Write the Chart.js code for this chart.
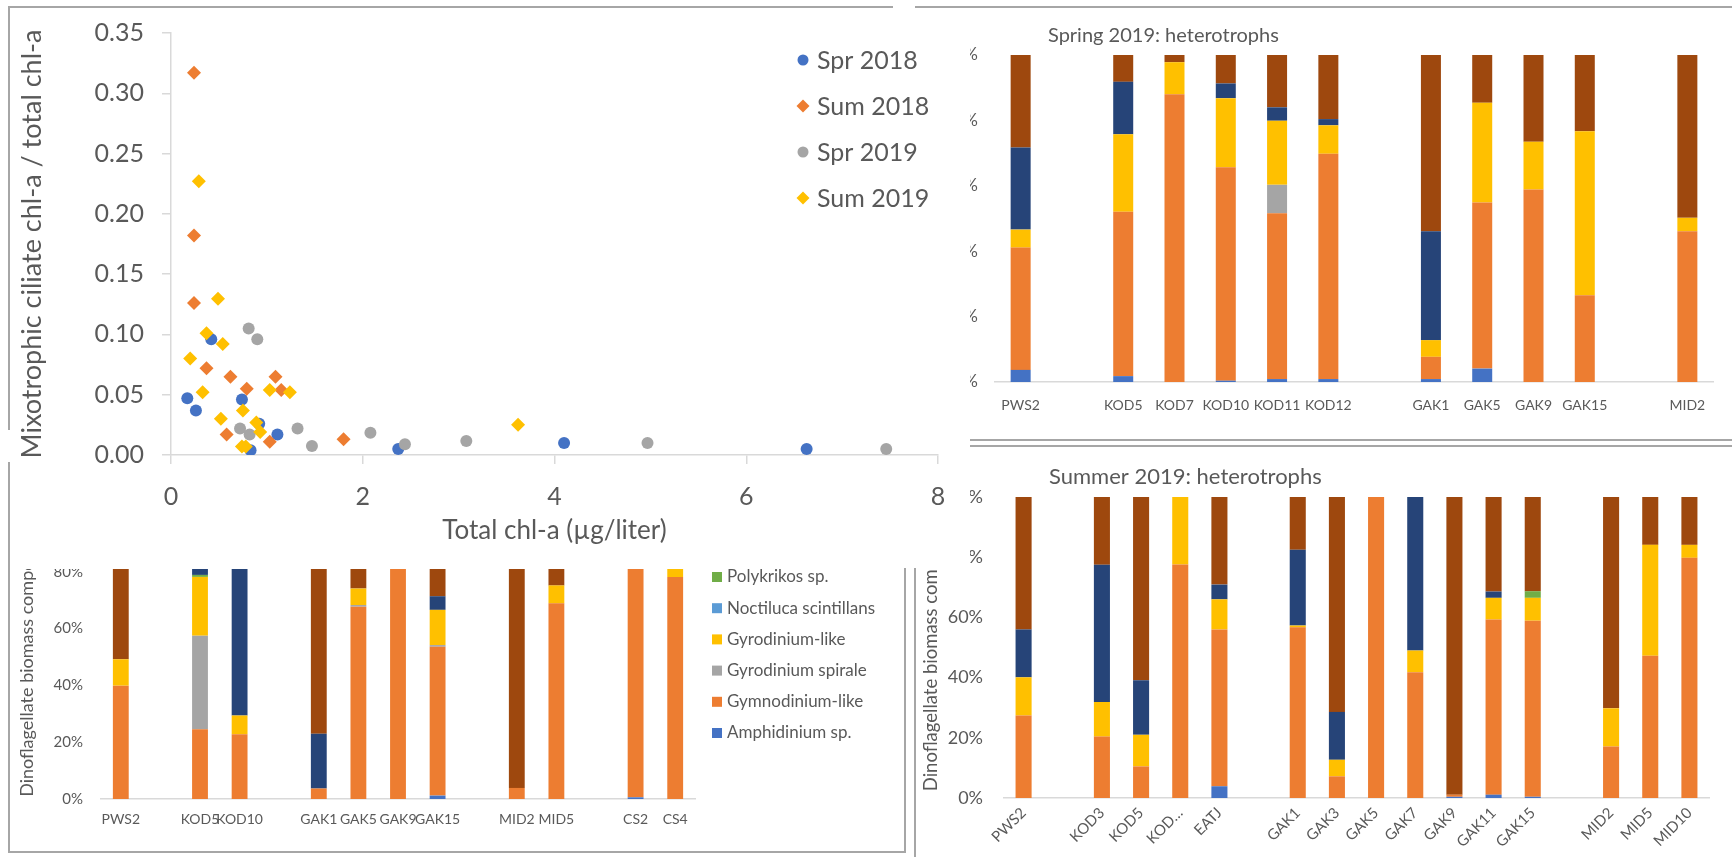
<!DOCTYPE html>
<html>
<head>
<meta charset="utf-8">
<script src="https://cdn.jsdelivr.net/npm/chart.js@4.4.1/dist/chart.umd.min.js"></script>
<style>
html, body { margin: 0; padding: 0; background: #fff; width: 1732px; height: 857px; overflow: hidden; position: relative; }
canvas { position: absolute; display: block; }
.cover { position: absolute; left: 0; top: 0; width: 970px; height: 569px; background: #fff; z-index: 4; }
.ln { position: absolute; background: #A6A6A6; z-index: 5; }
</style>
</head>
<body>
<canvas id="tr" width="772" height="426" style="left:960px;top:12px;z-index:1"></canvas>
<canvas id="br" width="814" height="408" style="left:918px;top:449px;z-index:2"></canvas>
<canvas id="bl" width="892" height="390" style="left:11px;top:460px;z-index:3"></canvas>
<div class="cover"><canvas id="sc" width="970" height="568" style="left:0;top:0"></canvas></div>

<div class="ln" style="left:9px;top:6px;width:884px;height:2px"></div>
<div class="ln" style="left:915px;top:6px;width:817px;height:2px"></div>
<div class="ln" style="left:8px;top:6px;width:2px;height:424px"></div>
<div class="ln" style="left:8px;top:462px;width:2px;height:390px"></div>
<div class="ln" style="left:8px;top:851px;width:898px;height:2px"></div>
<div class="ln" style="left:904px;top:568px;width:2px;height:285px"></div>
<div class="ln" style="left:914px;top:568px;width:2px;height:289px"></div>
<div class="ln" style="left:970px;top:439px;width:762px;height:2px"></div>
<div class="ln" style="left:970px;top:445px;width:762px;height:2px"></div>

<script>
// ---------- Scatter data: total chl-a (x) vs mixotrophic ciliate fraction (y) ----------
const spr2018X = [0.17, 0.26, 0.42, 0.74, 0.83, 0.92, 1.11, 2.37, 4.10, 6.63];
const spr2018Y = [0.047, 0.037, 0.096, 0.046, 0.004, 0.026, 0.017, 0.005, 0.010, 0.005];
const sum2018X = [0.24, 0.24, 0.24, 0.37, 0.62, 0.79, 1.09, 1.15, 0.58, 1.03, 1.80];
const sum2018Y = [0.317, 0.182, 0.126, 0.072, 0.065, 0.055, 0.065, 0.054, 0.017, 0.011, 0.013];
const spr2019X = [0.81, 0.90, 0.72, 0.82, 1.32, 1.47, 2.08, 2.44, 3.08, 4.97, 7.46];
const spr2019Y = [0.105, 0.096, 0.022, 0.017, 0.022, 0.0075, 0.0185, 0.009, 0.0116, 0.010, 0.005];
const sum2019X = [0.29, 0.49, 0.37, 0.54, 0.20, 0.33, 1.03, 1.24, 0.75, 0.52, 0.89, 0.93, 0.74, 0.78, 3.62];
const sum2019Y = [0.227, 0.1295, 0.101, 0.092, 0.080, 0.052, 0.054, 0.052, 0.037, 0.030, 0.027, 0.019, 0.007, 0.007, 0.025];

// ---------- Stacked bar series (bottom to top) ----------
const seriesNames = ['Amphidinium sp.', 'Gymnodinium-like', 'Gyrodinium spirale', 'Gyrodinium-like',
                     'Noctiluca scintillans', 'Polykrikos sp.', 'Series 7', 'Series 8'];
const seriesColors = ['#4472C4', '#ED7D31', '#A5A5A5', '#FFC000', '#5B9BD5', '#70AD47', '#264478', '#9E480E'];

// Bottom-left panel
const blCategories = ['PWS2', '', 'KOD5', 'KOD10', '', 'GAK1', 'GAK5', 'GAK9', 'GAK15', '', 'MID2', 'MID5', '', 'CS2', 'CS4'];
const blValues = [
  [0, null, 0, 0, null, 0, 0, 0, 1.2, null, 0, 0, null, 0.6, 0],
  [39.9, null, 24.6, 22.8, null, 3.7, 67.7, 100, 52.4, null, 3.9, 68.9, null, 99.4, 78.2],
  [0, null, 32.9, 0, null, 0, 0.6, 0, 0.6, null, 0, 0, null, 0, 0],
  [9.3, null, 20.7, 6.6, null, 0, 5.8, 0, 12.4, null, 0, 6.3, null, 0, 21.8],
  [0, null, 0, 0, null, 0, 0, 0, 0, null, 0, 0, null, 0, 0],
  [0, null, 0.7, 0, null, 0, 0, 0, 0, null, 0, 0, null, 0, 0],
  [0, null, 5.0, 70.6, null, 19.3, 0, 0, 4.8, null, 0, 0, null, 0, 0],
  [50.8, null, 16.1, 0, null, 77.0, 25.9, 0, 28.6, null, 96.1, 24.8, null, 0, 0]
];

// Top-right panel: Spring 2019
const trCategories = ['PWS2', '', 'KOD5', 'KOD7', 'KOD10', 'KOD11', 'KOD12', '', 'GAK1', 'GAK5', 'GAK9', 'GAK15', '', 'MID2'];
const trValues = [
  [3.7, null, 1.8, 0, 0.4, 0.9, 0.9, null, 0.9, 4.1, 0, 0, null, 0],
  [37.4, null, 50.3, 88.0, 65.3, 50.7, 68.9, null, 6.8, 50.8, 58.9, 26.5, null, 46.1],
  [0, null, 0, 0, 0, 8.7, 0, null, 0, 0, 0, 0, null, 0],
  [5.5, null, 23.7, 9.8, 21.1, 19.6, 8.7, null, 5.1, 30.5, 14.6, 50.2, null, 4.1],
  [0, null, 0, 0, 0, 0, 0, null, 0, 0, 0, 0, null, 0],
  [0, null, 0, 0, 0, 0, 0, null, 0, 0, 0, 0, null, 0],
  [25.1, null, 16.0, 0, 4.5, 4.1, 1.9, null, 33.3, 0, 0, 0, null, 0],
  [28.3, null, 8.2, 2.2, 8.7, 16.0, 19.6, null, 53.9, 14.6, 26.5, 23.3, null, 49.8]
];

// Bottom-right panel: Summer 2019
const brCategories = ['PWS2', '', 'KOD3', 'KOD5', 'KOD…', 'EATJ', '', 'GAK1', 'GAK3', 'GAK5', 'GAK7', 'GAK9', 'GAK11', 'GAK15', '', 'MID2', 'MID5', 'MID10'];
const brValues = [
  [0, null, 0, 0, 0, 3.9, null, 0, 0, 0, 0, 0.4, 1.1, 0.4, null, 0, 0, 0],
  [27.4, null, 20.4, 10.5, 77.6, 52.1, null, 56.7, 7.2, 100, 41.8, 0.7, 58.2, 58.5, null, 17.1, 47.3, 79.8],
  [0, null, 0, 0, 0, 0, null, 0, 0, 0, 0, 0, 0, 0, null, 0, 0, 0],
  [12.7, null, 11.5, 10.5, 22.4, 10.0, null, 0.6, 5.5, 0, 7.2, 0, 7.2, 7.6, null, 12.7, 36.8, 4.3],
  [0, null, 0, 0, 0, 0, null, 0, 0, 0, 0, 0, 0, 0, null, 0, 0, 0],
  [0, null, 0, 0, 0, 0, null, 0, 0, 0, 0, 0, 0, 2.2, null, 0, 0, 0],
  [15.9, null, 45.6, 18.1, 0, 4.9, null, 25.2, 15.9, 0, 51.0, 0, 2.1, 0, null, 0, 0, 0],
  [44.0, null, 22.5, 60.9, 0, 29.1, null, 17.5, 71.4, 0, 0, 98.9, 31.4, 31.3, null, 70.2, 15.9, 15.9]
];

const percentTicks = [0, 20, 40, 60, 80, 100];

// ---------- Chart setup ----------
const FONT = "Lato, 'Open Sans', sans-serif";
Chart.defaults.font.family = FONT;
Chart.defaults.color = '#595959';
Chart.defaults.animation = false;
Chart.defaults.plugins.tooltip.enabled = false;
Chart.defaults.plugins.legend.display = false;

// Panel titles and legends drawn relative to the chart area
const decor = {
  id: 'decor',
  afterDraw(chart, _args, o) {
    const ctx = chart.ctx, a = chart.chartArea;
    ctx.save();
    ctx.textBaseline = 'middle';
    ctx.textAlign = 'left';
    if (o.title) {
      ctx.fillStyle = '#595959';
      ctx.font = o.title.size + 'px ' + FONT;
      ctx.fillText(o.title.text, a.left + o.title.dx, a.top + o.title.dy);
    }
    if (o.markers) {
      const m = o.markers;
      chart.data.datasets.forEach((ds, i) => {
        const x = a.left + m.dx, y = a.top + m.dy + i * m.gap;
        ctx.fillStyle = ds.backgroundColor;
        ctx.beginPath();
        if (ds.pointStyle === 'circle') {
          ctx.arc(x, y, m.r, 0, Math.PI * 2);
        } else {
          const r = m.r + 1;
          ctx.moveTo(x - r, y); ctx.lineTo(x, y - r); ctx.lineTo(x + r, y); ctx.lineTo(x, y + r); ctx.closePath();
        }
        ctx.fill();
        ctx.fillStyle = '#595959';
        ctx.font = m.size + 'px ' + FONT;
        ctx.fillText(ds.label, x + m.textDx, y + 1);
      });
    }
    if (o.boxes) {
      const b = o.boxes;
      b.order.forEach((di, k) => {
        const ds = chart.data.datasets[di];
        const x = a.right + b.dx, y = a.top + b.dy + k * b.gap;
        ctx.fillStyle = ds.backgroundColor;
        ctx.fillRect(x, y - b.box / 2, b.box, b.box);
        ctx.fillStyle = '#595959';
        ctx.font = b.size + 'px ' + FONT;
        ctx.fillText(ds.label, x + b.textDx, y);
      });
    }
    ctx.restore();
  }
};

const pts = (xs, ys) => xs.map((x, i) => ({ x: x, y: ys[i] }));
const axisGrey = '#D9D9D9';

new Chart(document.getElementById('sc'), {
  type: 'scatter',
  data: {
    datasets: [
      { label: 'Spr 2018', data: pts(spr2018X, spr2018Y), backgroundColor: '#4472C4', borderColor: '#4472C4', pointStyle: 'circle', pointRadius: 6, pointBorderWidth: 0, order: 4 },
      { label: 'Sum 2018', data: pts(sum2018X, sum2018Y), backgroundColor: '#ED7D31', borderColor: '#ED7D31', pointStyle: 'rectRot', pointRadius: 7, pointBorderWidth: 0, order: 3 },
      { label: 'Spr 2019', data: pts(spr2019X, spr2019Y), backgroundColor: '#A5A5A5', borderColor: '#A5A5A5', pointStyle: 'circle', pointRadius: 6, pointBorderWidth: 0, order: 2 },
      { label: 'Sum 2019', data: pts(sum2019X, sum2019Y), backgroundColor: '#FFC000', borderColor: '#FFC000', pointStyle: 'rectRot', pointRadius: 7, pointBorderWidth: 0, order: 1 }
    ]
  },
  options: {
    responsive: false,
    layout: { padding: { left: 0, top: 33, right: 32, bottom: 0 } },
    scales: {
      x: {
        type: 'linear', min: 0, max: 8,
        ticks: { stepSize: 2, font: { size: 25 }, padding: 18 },
        grid: { drawOnChartArea: false, drawTicks: true, tickLength: 9, color: axisGrey, lineWidth: 1.5 },
        border: { color: axisGrey, width: 1.5 },
        title: { display: true, text: 'Total chl-a (µg/liter)', font: { size: 26 }, padding: { top: 0, bottom: 22 } },
        afterFit: s => { s.height = 113; }
      },
      y: {
        type: 'linear', min: 0, max: 0.35,
        ticks: { stepSize: 0.05, font: { size: 25 }, padding: 18, callback: v => Number(v).toFixed(2) },
        grid: { drawOnChartArea: false, drawTicks: true, tickLength: 9, color: axisGrey, lineWidth: 1.5 },
        border: { color: axisGrey, width: 1.5 },
        title: { display: true, text: 'Mixotrophic ciliate chl-a / total chl-a', font: { size: 27 }, padding: { top: 16, bottom: 0 } },
        afterFit: s => { s.width = 171; }
      }
    },
    plugins: { decor: { markers: { dx: 632, dy: 27, gap: 46, r: 5.5, textDx: 14, size: 25 } } }
  },
  plugins: [decor]
});

function stackedChart(id, cats, values, o) {
  const datasets = values.map((row, i) => ({
    label: seriesNames[i], data: row, backgroundColor: seriesColors[i],
    borderWidth: 0, barPercentage: o.bar, categoryPercentage: 1
  }));
  return new Chart(document.getElementById(id), {
    type: 'bar',
    data: { labels: cats, datasets: datasets },
    options: {
      responsive: false,
      layout: { padding: o.padding },
      scales: {
        x: {
          stacked: true,
          grid: { display: false, drawTicks: false },
          border: { color: axisGrey, width: 1.5 },
          ticks: { autoSkip: false, maxRotation: o.rot, minRotation: o.rot, font: { size: o.xFont }, padding: o.xPad },
          afterFit: s => { s.height = o.xH; }
        },
        y: {
          stacked: true, min: 0, max: 100,
          grid: { display: false, drawTicks: false },
          border: { display: false },
          afterBuildTicks: s => { s.ticks = percentTicks.map(v => ({ value: v })); },
          ticks: { callback: v => v + '%', font: { size: o.yFont }, padding: o.yPad },
          title: o.yTitle ? { display: true, text: o.yTitle, font: { size: o.yTitleSize }, padding: { top: o.yTitlePad, bottom: 0 } } : { display: false },
          afterFit: s => { s.width = o.yW; }
        }
      },
      plugins: { decor: o.decor }
    },
    plugins: [decor]
  });
}

stackedChart('bl', blCategories, blValues, {
  bar: 0.4, padding: { left: 0, top: 55, right: 208, bottom: 0 },
  rot: 0, xFont: 14, xPad: 12, xH: 51,
  yFont: 15, yPad: 18, yW: 90,
  yTitle: 'Dinoflagellate biomass composition', yTitleSize: 18, yTitlePad: 5,
  decor: { boxes: { order: [5, 4, 3, 2, 1, 0], dx: 17, dy: 62, gap: 31.2, box: 10, textDx: 15, size: 17 } }
});

stackedChart('tr', trCategories, trValues, {
  bar: 0.39, padding: { left: 0, top: 43, right: 19, bottom: 0 },
  rot: 0, xFont: 14, xPad: 15, xH: 56,
  yFont: 17, yPad: 17, yW: 35,
  decor: { title: { text: 'Spring 2019: heterotrophs', dx: 53, dy: -19, size: 20 } }
});

stackedChart('br', brCategories, brValues, {
  bar: 0.41, padding: { left: 0, top: 48, right: 23, bottom: 0 },
  rot: 45, xFont: 15, xPad: 6, xH: 59,
  yFont: 18, yPad: 21, yW: 86,
  yTitle: 'Dinoflagellate biomass composition', yTitleSize: 18.5, yTitlePad: 2,
  decor: { title: { text: 'Summer 2019: heterotrophs', dx: 45, dy: -20, size: 22 } }
});
</script>
</body>
</html>
